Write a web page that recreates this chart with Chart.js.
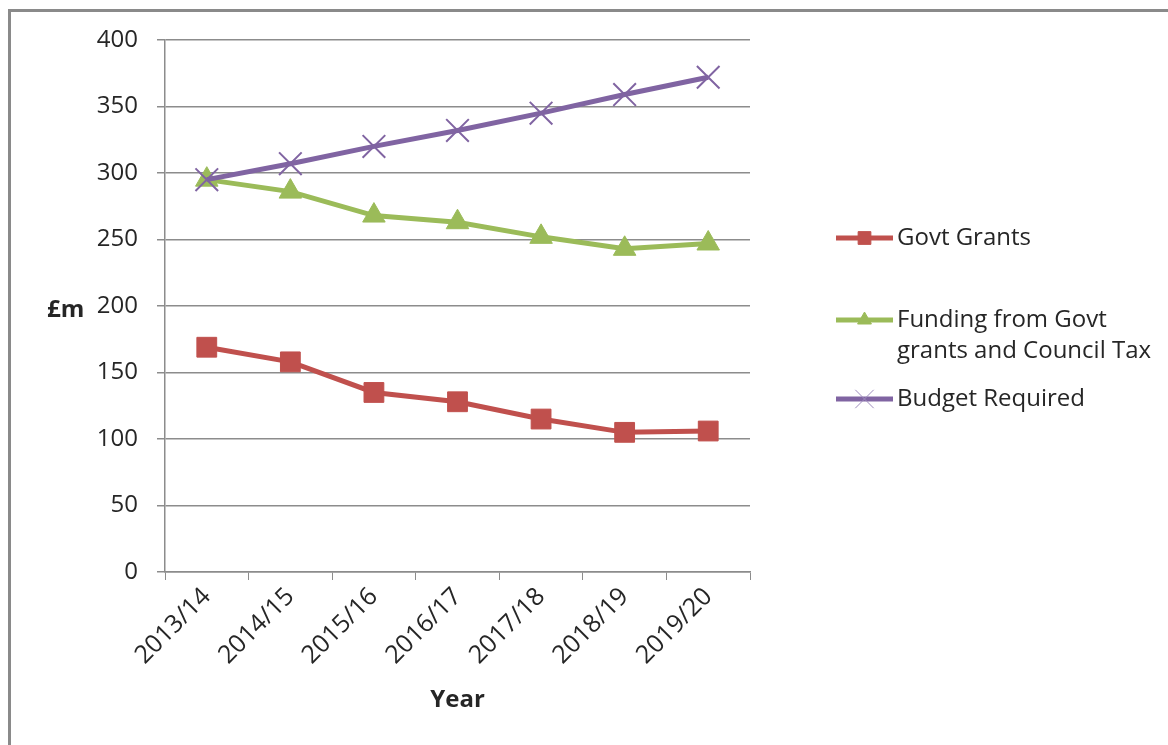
<!DOCTYPE html>
<html>
<head>
<meta charset="utf-8">
<script src="https://cdn.jsdelivr.net/npm/chart.js@4/dist/chart.umd.min.js"></script>
<style>
  html, body { margin: 0; padding: 0; background: #fff; }
  canvas { display: block; }
</style>
</head>
<body>
<canvas id="chart" width="1168" height="745"></canvas>
<script>
// values (£m)
const years = ['2013/14', '2014/15', '2015/16', '2016/17', '2017/18', '2018/19', '2019/20'];
const govtGrants = [169, 158, 135, 128, 115, 105, 106];
const fundingTotal = [295, 286, 268, 263, 252, 243, 247];
const budgetRequired = [295, 307, 320, 332, 345, 359, 372];
const seriesNames = [['Govt Grants'], ['Funding from Govt', 'grants and Council Tax'], ['Budget Required']];
const yTicks = [0, 50, 100, 150, 200, 250, 300, 350, 400];

const FONT = "'Open Sans', sans-serif";
const TEXT = '#262626';
const GRID = '#8c8c8c';

// frame, "£m" label and the legend on the right
const decorations = {
    id: 'decorations',
    beforeDraw(chart) {
        const ctx = chart.ctx;
        ctx.save();
        ctx.strokeStyle = '#8a8a8a';
        ctx.lineWidth = 3;
        ctx.beginPath();
        ctx.moveTo(9.5, 745);
        ctx.lineTo(9.5, 10.5);
        ctx.lineTo(1168, 10.5);
        ctx.stroke();
        ctx.restore();
    },
    afterDraw(chart) {
        const ctx = chart.ctx;
        ctx.save();
        ctx.fillStyle = TEXT;
        ctx.font = 'bold 24px ' + FONT;
        ctx.textAlign = 'left';
        ctx.textBaseline = 'middle';
        ctx.fillText('£m', 47, 310);

        // legend
        const rowY = [238, 320, 399];
        const lineX0 = 836, lineX1 = 893, textX = 897;
        const markerSize = { rect: 9, triangle: 8, crossRot: 13 };
        chart.data.datasets.forEach((ds, i) => {
            const y = rowY[i];
            ctx.strokeStyle = ds.borderColor;
            ctx.lineWidth = 5;
            ctx.beginPath();
            ctx.moveTo(lineX0, y);
            ctx.lineTo(lineX1, y);
            ctx.stroke();
            const cx = (lineX0 + lineX1) / 2;
            ctx.fillStyle = ds.backgroundColor;
            ctx.lineWidth = 1;
            ctx.strokeStyle = ds.pointStyle === 'crossRot' ? '#9d8bbd' : ds.borderColor;
            Chart.helpers.drawPoint(ctx, {
                pointStyle: ds.pointStyle,
                radius: markerSize[ds.pointStyle],
                borderWidth: 1
            }, cx, y);
            ctx.fillStyle = TEXT;
            ctx.font = '24px ' + FONT;
            seriesNames[i].forEach((line, k) => {
                ctx.fillText(line, textX, y + k * 31);
            });
        });
        ctx.restore();
    }
};

new Chart(document.getElementById('chart'), {
    type: 'line',
    data: {
        labels: years,
        datasets: [
            {
                label: seriesNames[0].join(' '),
                data: govtGrants,
                borderColor: '#C0504D',
                backgroundColor: '#C0504D',
                borderWidth: 5,
                pointStyle: 'rect',
                pointRadius: 14,
                pointBorderWidth: 1,
                order: 2
            },
            {
                label: seriesNames[1].join(' '),
                data: fundingTotal,
                borderColor: '#9BBB59',
                backgroundColor: '#9BBB59',
                borderWidth: 5,
                pointStyle: 'triangle',
                pointRadius: 13,
                pointBorderWidth: 1,
                order: 1
            },
            {
                label: seriesNames[2].join(' '),
                data: budgetRequired,
                borderColor: '#8064A2',
                backgroundColor: '#8064A2',
                borderWidth: 5,
                pointStyle: 'crossRot',
                pointRadius: 16,
                pointBorderWidth: 2,
                order: 0
            }
        ]
    },
    options: {
        responsive: false,
        animation: false,
        devicePixelRatio: 1,
        layout: { padding: { top: 40, right: 418, bottom: 30, left: 0 } },
        elements: { line: { tension: 0 } },
        plugins: {
            legend: { display: false },
            tooltip: { enabled: false }
        },
        scales: {
            x: {
                offset: true,
                grid: {
                    offset: true,
                    drawOnChartArea: false,
                    color: GRID,
                    tickLength: 8
                },
                border: { color: GRID, width: 1.5 },
                ticks: {
                    minRotation: 45,
                    maxRotation: 45,
                    padding: 2,
                    color: TEXT,
                    font: { family: FONT, size: 25 }
                },
                title: {
                    display: true,
                    text: 'Year',
                    color: TEXT,
                    padding: { top: 0, bottom: 0 },
                    font: { family: FONT, size: 24, weight: 'bold' }
                },
                afterFit(scale) { scale.height = 143; }
            },
            y: {
                min: 0,
                max: 400,
                afterBuildTicks(scale) { scale.ticks = yTicks.map(v => ({ value: v })); },
                grid: { color: GRID, lineWidth: 1.5, tickLength: 8 },
                border: { color: GRID, width: 1.5 },
                ticks: {
                    padding: 19,
                    color: TEXT,
                    font: { family: FONT, size: 24 }
                },
                afterFit(scale) { scale.width = 165; }
            }
        }
    },
    plugins: [decorations]
});
</script>
</body>
</html>
